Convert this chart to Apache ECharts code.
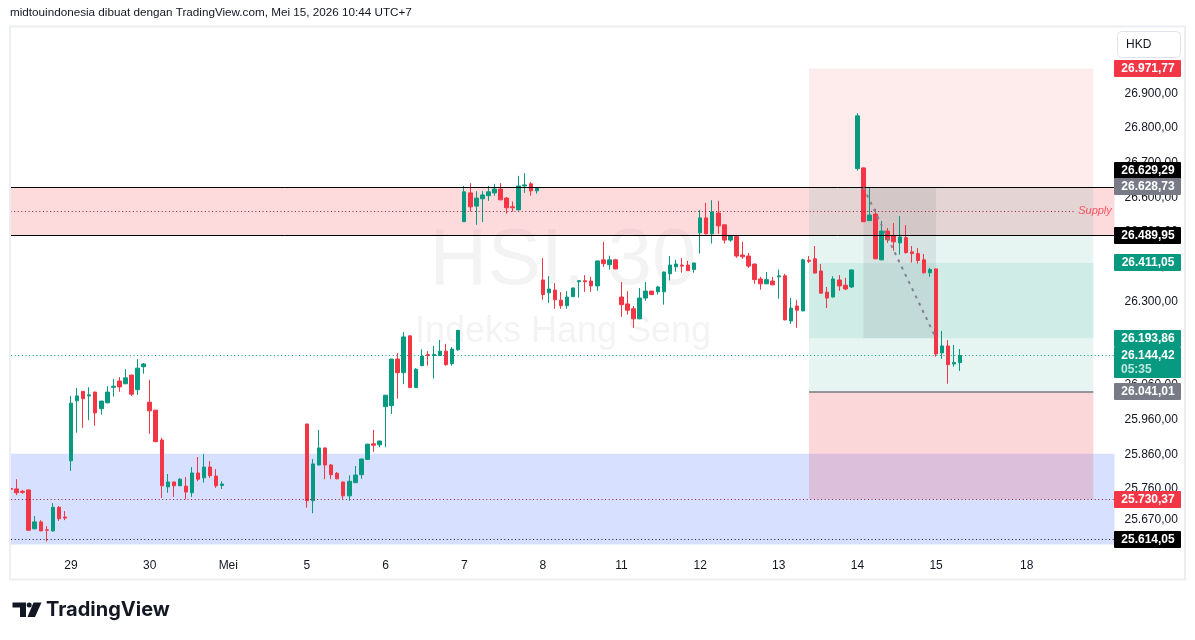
<!DOCTYPE html>
<html>
<head>
<meta charset="utf-8">
<script src="https://cdn.jsdelivr.net/npm/echarts@6/dist/echarts.min.js"></script>
<style>
  html, body { margin: 0; padding: 0; background: #fff; }
  #chart { width: 1195px; height: 640px; }
</style>
</head>
<body>
<div id="chart"></div>
<script>
// time scale: one label per trading day, 30 minute slots per day
var dayLabels = ['', '29', '30', 'Mei', '5', '6', '7', '8', '11', '12', '13', '14', '15', '18'];
var daySlots = [10, 13, 13, 13, 13, 13, 13, 13, 13, 13, 13, 13, 15, 15];

// candles [open, close, low, high]
var apr28 = [
  [25761, 25759, 25731, 25771], [25760, 25749, 25742, 25788], [25753, 25750, 25746, 25757],
  [25757, 25641, 25640, 25758], [25645, 25665, 25644, 25682], [25665, 25639, 25639, 25670],
  [25642, 25641, 25608, 25653], [25639, 25707, 25637, 25719], [25707, 25674, 25668, 25711],
  [25679, 25676, 25670, 25696]
];
var apr29 = [
  [25841, 26007, 25812, 26028], [26014, 26028, 25922, 26051], [26041, 26020, 25936, 26042],
  [26028, 26031, 25958, 26053], [26039, 25979, 25942, 26040], [25991, 26013, 25974, 26014],
  [26008, 26039, 26007, 26056], [26053, 26056, 26026, 26077], [26071, 26054, 26040, 26082],
  [26063, 26080, 26062, 26105], [26088, 26033, 26028, 26089], [26046, 26108, 26031, 26134],
  [26112, 26120, 26092, 26123]
];
var apr30 = [
  [26010, 25985, 25919, 26074], [25987, 25896, 25895, 25988], [25901, 25769, 25734, 25907],
  [25766, 25780, 25749, 25803], [25780, 25769, 25737, 25781], [25769, 25788, 25768, 25791],
  [25768, 25751, 25730, 25794], [25749, 25806, 25737, 25823], [25806, 25788, 25782, 25852],
  [25792, 25823, 25778, 25861], [25823, 25798, 25792, 25840], [25797, 25769, 25763, 25817],
  [25770, 25774, 25760, 25782]
];
var may4 = [];
var may5 = [
  [25947, 25726, 25706, 25948], [25726, 25832, 25690, 25846], [25829, 25878, 25828, 25930],
  [25878, 25829, 25788, 25879], [25829, 25801, 25788, 25832], [25805, 25789, 25788, 25809],
  [25780, 25740, 25730, 25781], [25740, 25782, 25726, 25799], [25778, 25800, 25777, 25826],
  [25801, 25846, 25789, 25847], [25845, 25889, 25844, 25890], [25890, 25886, 25867, 25930],
  [25887, 25898, 25880, 25899]
];
var may6 = [
  [25997, 26030, 25880, 26031], [26000, 26134, 25976, 26135], [26134, 26095, 26020, 26152],
  [26095, 26198, 26062, 26212], [26201, 26052, 26051, 26202], [26052, 26105, 26051, 26108],
  [26115, 26143, 26114, 26162], [26147, 26144, 26115, 26157], [26144, 26147, 26078, 26172],
  [26144, 26157, 26143, 26189], [26157, 26118, 26115, 26178], [26121, 26163, 26115, 26169],
  [26161, 26217, 26158, 26218]
];
var may7 = [
  [26530, 26616, 26529, 26633], [26613, 26573, 26559, 26641], [26575, 26598, 26521, 26618],
  [26596, 26607, 26529, 26618], [26605, 26616, 26590, 26633], [26613, 26624, 26605, 26639],
  [26624, 26593, 26592, 26641], [26598, 26570, 26553, 26601], [26573, 26570, 26559, 26588],
  [26564, 26633, 26563, 26662], [26633, 26636, 26613, 26670], [26639, 26619, 26605, 26644],
  [26619, 26627, 26611, 26628]
];
var may8 = [
  [26362, 26320, 26305, 26425], [26325, 26336, 26296, 26373], [26333, 26305, 26279, 26353],
  [26304, 26288, 26279, 26327], [26288, 26313, 26279, 26330], [26314, 26339, 26313, 26340],
  [26357, 26360, 26311, 26361], [26360, 26357, 26328, 26376], [26359, 26345, 26328, 26371],
  [26345, 26417, 26331, 26418], [26420, 26409, 26400, 26472], [26406, 26420, 26392, 26432],
  [26420, 26394, 26393, 26423]
];
var may11 = [
  [26313, 26291, 26256, 26356], [26293, 26275, 26262, 26330], [26279, 26250, 26224, 26287],
  [26250, 26310, 26249, 26339], [26310, 26330, 26302, 26356], [26330, 26320, 26319, 26331],
  [26328, 26342, 26320, 26345], [26328, 26385, 26291, 26386], [26380, 26405, 26361, 26431],
  [26400, 26408, 26386, 26420], [26405, 26402, 26383, 26425], [26405, 26389, 26388, 26417],
  [26392, 26411, 26383, 26412]
];
var may12 = [
  [26498, 26541, 26438, 26564], [26541, 26495, 26494, 26584], [26495, 26558, 26467, 26592],
  [26555, 26518, 26495, 26590], [26521, 26477, 26467, 26522], [26477, 26490, 26472, 26491],
  [26487, 26431, 26426, 26488], [26434, 26429, 26423, 26472], [26431, 26402, 26397, 26440],
  [26408, 26363, 26351, 26409], [26365, 26351, 26334, 26371], [26351, 26363, 26350, 26385],
  [26359, 26348, 26347, 26371]
];
var may13 = [
  [26371, 26374, 26308, 26392], [26374, 26247, 26246, 26380], [26244, 26281, 26235, 26310],
  [26287, 26275, 26224, 26304], [26273, 26420, 26272, 26423], [26419, 26416, 26411, 26431],
  [26423, 26382, 26381, 26460], [26388, 26324, 26323, 26408], [26327, 26310, 26281, 26342],
  [26313, 26365, 26312, 26373], [26362, 26345, 26331, 26376], [26347, 26336, 26333, 26368],
  [26342, 26391, 26339, 26392]
];
var may14 = [
  [26683, 26835, 26677, 26843], [26685, 26530, 26529, 26686], [26533, 26549, 26532, 26627],
  [26552, 26423, 26422, 26567], [26420, 26503, 26419, 26532], [26503, 26478, 26469, 26512],
  [26490, 26472, 26446, 26526], [26469, 26486, 26435, 26546], [26484, 26441, 26438, 26520],
  [26443, 26438, 26412, 26460], [26438, 26418, 26409, 26454], [26420, 26383, 26380, 26437],
  [26383, 26392, 26371, 26397]
];
var may15 = [
  [26394, 26149, 26141, 26395], [26152, 26172, 26135, 26215], [26172, 26118, 26063, 26189],
  [26120, 26124, 26112, 26175], [26124, 26144.42, 26100, 26163]
];
var may18 = [];

// price levels of the drawings
var supplyTop = 26629.29, supplyBottom = 26489.95;
var demandTop = 25861, demandBottom = 25599.74;
var shortStop = 26971.77, shortEntry = 26628.73, shortTarget = 26193.86;
var longTarget = 26411.05, longEntry = 26041.01, longStop = 25730.37;
var lowLine = 25614.05;
var lastPrice = 26144.42;
var countdown = '05:35';

// right scale ticks
var priceTicks = [25670, 25760, 25860, 25960, 26060, 26100, 26200, 26300, 26400, 26500, 26600, 26700, 26800, 26900];

var days = [apr28, apr29, apr30, may4, may5, may6, may7, may8, may11, may12, may13, may14, may15, may18];

var categories = [];
var candles = [];
days.forEach(function (bars, d) {
  for (var k = 0; k < daySlots[d]; k++) {
    categories.push(dayLabels[d] + '|' + d + '|' + k);
    if (d < days.length - 2) {
      candles.push(bars[k] ? bars[k] : '-');
    } else if (bars[k]) {
      candles.push(bars[k]);
    }
  }
});

var fmt = function (v) {
  var s = v.toFixed(2).split('.');
  return s[0].replace(/\B(?=(\d{3})+(?!\d))/g, '.') + ',' + s[1];
};

var FONT = '"Liberation Sans", Arial, sans-serif';
var UP = '#089981', DOWN = '#f23645';
var dotRed = '#8f1d3f';

// position tool bounds (bar indexes)
var posFrom = 132, posTo = 179, tradeFrom = 141, tradeTo = 153;

var chart = echarts.init(document.getElementById('chart'));
window.onresize = function () { chart.resize(); };

var option = {
  animation: false,
  backgroundColor: '#ffffff',
  textStyle: { fontFamily: FONT },
  grid: { left: 7.5, right: 80.5, top: 27, bottom: 90 },
  xAxis: {
    type: 'category',
    data: categories,
    boundaryGap: true,
    axisLine: { show: false },
    axisTick: { show: false },
    splitLine: { show: false },
    axisLabel: {
      interval: 0,
      margin: 10,
      color: '#131722',
      fontSize: 12,
      fontFamily: FONT,
      formatter: function (v) {
        var p = v.split('|');
        return p[2] === '0' ? p[0] : '';
      }
    }
  },
  yAxis: {
    type: 'value',
    position: 'right',
    min: 25584,
    max: 27091,
    axisLine: { show: false },
    axisTick: { show: false },
    splitLine: { show: false },
    axisLabel: {
      customValues: priceTicks,
      margin: 10,
      color: '#131722',
      fontSize: 12,
      fontFamily: FONT,
      formatter: function (v) { return fmt(v); }
    }
  },
  series: [
    {
      type: 'candlestick',
      z: 2,
      barWidth: 4,
      data: candles,
      itemStyle: {
        color: UP, color0: DOWN,
        borderColor: UP, borderColor0: DOWN,
        borderWidth: 1
      }
    },
    {
      // zones and position tools
      type: 'line',
      data: [],
      z: 10,
      silent: true,
      markArea: {
        silent: true,
        data: [
          [{ yAxis: supplyTop, itemStyle: { color: 'rgba(242,54,69,0.18)' } }, { yAxis: supplyBottom }],
          [{ yAxis: demandTop, itemStyle: { color: 'rgba(41,98,255,0.19)' } }, { yAxis: demandBottom }],
          [{ coord: [posFrom, shortStop], itemStyle: { color: 'rgba(242,54,69,0.1)' } }, { coord: [posTo, shortEntry] }],
          [{ coord: [posFrom, shortEntry], itemStyle: { color: 'rgba(8,153,129,0.1)' } }, { coord: [posTo, shortTarget] }],
          [{ coord: [posFrom, longTarget], itemStyle: { color: 'rgba(8,153,129,0.1)' } }, { coord: [posTo, longEntry] }],
          [{ coord: [posFrom, longEntry], itemStyle: { color: 'rgba(242,54,69,0.2)' } }, { coord: [posTo, longStop] }],
          [{ coord: [tradeFrom, shortEntry], itemStyle: { color: 'rgba(120,123,134,0.14)' } }, { coord: [tradeTo, shortTarget] }]
        ]
      }
    },
    {
      // horizontal lines
      type: 'line',
      data: [],
      z: 11,
      silent: true,
      markLine: {
        silent: true,
        symbol: ['none', 'none'],
        label: { show: false },
        data: [
          { yAxis: supplyTop, lineStyle: { color: '#000', width: 1, type: 'solid' } },
          { yAxis: supplyBottom, lineStyle: { color: '#000', width: 1, type: 'solid' } },
          [
            {
              coord: [0, (supplyTop + supplyBottom) / 2],
              lineStyle: { color: dotRed, width: 1, type: [1, 2.6] },
              label: {
                show: true, position: 'end', distance: 3, formatter: 'Supply',
                color: '#f7525f', fontStyle: 'italic', fontSize: 11, fontFamily: FONT
              }
            },
            { coord: [176, (supplyTop + supplyBottom) / 2] }
          ],
          { yAxis: longStop, lineStyle: { color: dotRed, width: 1, type: [1, 2.6] } },
          { yAxis: lowLine, lineStyle: { color: '#131722', width: 1, type: [1, 2.6] } },
          { yAxis: lastPrice, lineStyle: { color: UP, width: 1, type: [1, 2.6] } },
          [
            { coord: [posFrom - 0.3, longEntry], lineStyle: { color: '#787b86', width: 1.5, type: 'solid' } },
            { coord: [posTo, longEntry] }
          ],
          [
            { coord: [tradeFrom, shortEntry], lineStyle: { color: '#80838d', width: 2, type: [3, 5] } },
            { coord: [tradeTo - 0.5, shortTarget] }
          ]
        ]
      }
    }
  ],
  graphic: {
    elements: [
      { type: 'text', id: 'wm1', z: 0, silent: true,
        style: { text: 'HSI, 30', x: 563, y: 262, fill: 'rgba(19,23,34,0.05)',
          font: '80px ' + FONT, textAlign: 'center', textVerticalAlign: 'middle' } },
      { type: 'text', id: 'wm2', z: 0, silent: true,
        style: { text: 'Indeks Hang Seng', x: 563, y: 332, fill: 'rgba(19,23,34,0.05)',
          font: '36px ' + FONT, textAlign: 'center', textVerticalAlign: 'middle' } },
      { type: 'rect', id: 'mask', z: 90, silent: true,
        shape: { x: 0, y: 20, width: 9, height: 570 }, style: { fill: '#fff' } },
      { type: 'rect', id: 'frame', z: 91, silent: true,
        shape: { x: 10, y: 26.5, width: 1175, height: 553 },
        style: { fill: null, stroke: '#eceef2', lineWidth: 2 } },
      { type: 'text', id: 'head', z: 91,
        style: { text: 'midtouindonesia dibuat dengan TradingView.com, Mei 15, 2026 10:44 UTC+7',
          x: 10, y: 13, fill: '#131722', font: '11.7px ' + FONT, textVerticalAlign: 'middle' } },
      { type: 'rect', id: 'hkd', z: 91,
        shape: { x: 1117.5, y: 31.5, width: 63, height: 26, r: 4 },
        style: { fill: '#fff', stroke: '#e0e3eb', lineWidth: 1 } },
      { type: 'text', id: 'hkdt', z: 92,
        style: { text: 'HKD', x: 1126, y: 45, fill: '#131722', font: '12px ' + FONT, textVerticalAlign: 'middle' } },
      { type: 'polygon', id: 'logo1', z: 91,
        shape: { points: [[12.5, 602.5], [26, 602.5], [26, 617], [20, 617], [20, 607.5], [12.5, 607.5]] },
        style: { fill: '#131722' } },
      { type: 'circle', id: 'logo2', z: 91, shape: { cx: 29.2, cy: 605, r: 2.5 }, style: { fill: '#131722' } },
      { type: 'polygon', id: 'logo3', z: 91,
        shape: { points: [[33.5, 602.5], [41.5, 602.5], [35, 617], [27.5, 617]] },
        style: { fill: '#131722' } },
      { type: 'text', id: 'logot', z: 91,
        style: { text: 'TradingView', x: 46, y: 610, fill: '#131722',
          font: 'bold 20px Inter, ' + FONT, textVerticalAlign: 'middle' } }
    ]
  }
};

chart.setOption(option);

// price tags on the right scale, placed through the axis
var tags = [
  { v: shortStop, bg: '#f23645', dy: 0 },
  { v: supplyTop, bg: '#000000', dy: -17 },
  { v: shortEntry, bg: '#787b86', dy: -1 },
  { v: supplyBottom, bg: '#000000', dy: 0 },
  { v: longTarget, bg: UP, dy: 0 },
  { v: shortTarget, bg: UP, dy: 0 },
  { v: lastPrice, bg: UP, dy: 0, extra: countdown },
  { v: longEntry, bg: '#787b86', dy: 0 },
  { v: longStop, bg: '#f23645', dy: 0 },
  { v: lowLine, bg: '#000000', dy: 0 }
];
var els = [];
tags.forEach(function (t, i) {
  var y = chart.convertToPixel({ yAxisIndex: 0 }, t.v) + t.dy;
  var h = t.extra ? 31 : 17;
  els.push({ type: 'rect', id: 'tagbox' + i, z: 95,
    shape: { x: 1114, y: Math.round(y - 8.5), width: 67, height: h, r: 1 },
    style: { fill: t.bg } });
  els.push({ type: 'text', id: 'tagtxt' + i, z: 96,
    style: { text: fmt(t.v), x: 1148, y: y, fill: '#ffffff', font: 'bold 12px ' + FONT,
      textAlign: 'center', textVerticalAlign: 'middle' } });
  if (t.extra) {
    els.push({ type: 'text', id: 'tagx' + i, z: 96,
      style: { text: t.extra, x: 1121, y: y + 14, fill: 'rgba(255,255,255,0.75)', font: 'bold 12px ' + FONT,
        textVerticalAlign: 'middle' } });
  }
});
chart.setOption({ graphic: { elements: els } });
</script>
</body>
</html>
